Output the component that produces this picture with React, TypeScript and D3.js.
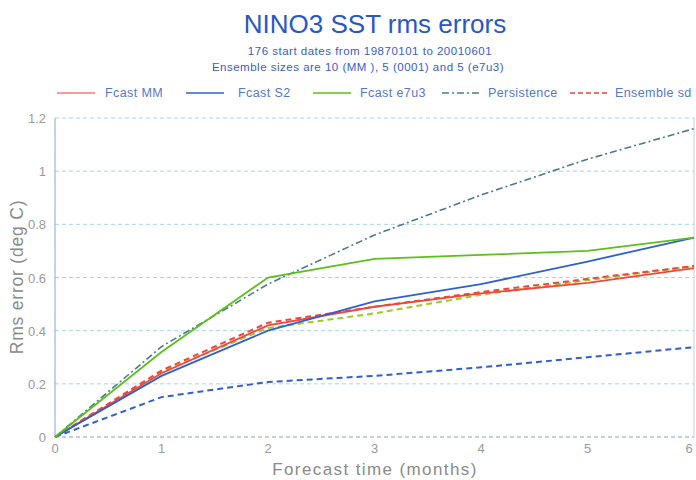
import React from "react";
import * as d3 from "d3";

const leads = [0, 1, 2, 3, 4, 5, 6];
const fcastMM = [0, 0.24, 0.42, 0.49, 0.54, 0.58, 0.635];
const fcastS2 = [0, 0.23, 0.40, 0.51, 0.575, 0.66, 0.75];
const fcastE7u3 = [0, 0.32, 0.60, 0.67, 0.685, 0.70, 0.75];
const persistence = [0, 0.34, 0.575, 0.76, 0.91, 1.045, 1.16];
const sdMM = [0, 0.25, 0.43, 0.49, 0.545, 0.595, 0.643];
const sdE7u3 = [0, 0.245, 0.41, 0.465, 0.535, 0.59, 0.643];
const sdS2 = [0, 0.15, 0.207, 0.23, 0.262, 0.30, 0.338];
const yTicks = [0, 0.2, 0.4, 0.6, 0.8, 1, 1.2];
const legendLabels = ["Fcast MM", "Fcast S2", "Fcast e7u3", "Persistence", "Ensemble sd"];

const RED = "#f0463c";
const BLUE = "#2f5fd0";
const GREEN = "#5cbf1c";
const PERS = "#4a7a96";

export default function App() {
  const W = 696, H = 480;
  const x = d3.scaleLinear().domain([0, 6]).range([55, 694]);
  const y = d3.scaleLinear().domain([0, 1.2]).range([437, 118]);
  const line = d3.line<number>().x((_, i) => x(leads[i])).y(d => y(d));

  const series = [
    { v: sdS2, c: BLUE, dash: "6,4", w: 2 },
    { v: persistence, c: PERS, dash: "7,3,2,3", w: 1.6 },
    { v: sdE7u3, c: "#9acd20", dash: "6,4", w: 2 },
    { v: sdMM, c: RED, dash: "6,4", w: 2 },
    { v: fcastMM, c: RED, dash: null, w: 1.8 },
    { v: fcastS2, c: BLUE, dash: null, w: 1.8 },
    { v: fcastE7u3, c: GREEN, dash: null, w: 1.8 },
  ];

  const legend = [
    { label: legendLabels[0], c: "#f87a7a", dash: null, lx: 57, tx: 105 },
    { label: legendLabels[1], c: BLUE, dash: null, lx: 186, tx: 238 },
    { label: legendLabels[2], c: GREEN, dash: null, lx: 313, tx: 360 },
    { label: legendLabels[3], c: PERS, dash: "7,3,2,3", lx: 442, tx: 488 },
    { label: legendLabels[4], c: RED, dash: "5,3", lx: 570, tx: 615 },
  ];

  return (
    <svg width={W} height={H} style={{ position: "absolute", left: 0, top: 0, background: "#fff" }}
      fontFamily="Liberation Sans, Arial, sans-serif">
      <text x={375} y={33} textAnchor="middle" fontSize={26} fill="#2a56c6">NINO3 SST rms errors</text>
      <text x={370} y={55} textAnchor="middle" fontSize={11.5} letterSpacing={0.5} fill="#3a5cc8">176 start dates from 19870101 to 20010601</text>
      <text x={358} y={71} textAnchor="middle" fontSize={11.5} letterSpacing={0.5} fill="#3a5cc8">Ensemble sizes are 10 (MM ), 5 (0001) and 5 (e7u3)</text>

      {legend.map((l, i) => (
        <g key={i}>
          <line x1={l.lx} x2={l.lx + 38} y1={93} y2={93} stroke={l.c} strokeWidth={1.5}
            strokeDasharray={l.dash ?? undefined} />
          <text x={l.tx} y={97} fontSize={12.5} letterSpacing={0.4} fill="#5577d0">{l.label}</text>
        </g>
      ))}

      {yTicks.map(t => (
        <line key={t} x1={x(0)} x2={x(6)} y1={y(t)} y2={y(t)}
          stroke={t === 0 ? "#8aa0b0" : "#a8d4e8"} strokeWidth={1} strokeDasharray="4,3" />
      ))}
      <line x1={x(0)} x2={x(0)} y1={y(0)} y2={y(1.2)} stroke="#8aa8c8" strokeWidth={1} />
      <line x1={x(6)} x2={x(6)} y1={y(0)} y2={y(1.2)} stroke="#c0d0dc" strokeWidth={1} />

      {yTicks.map(t => (
        <text key={t} x={46} y={y(t) + 5} textAnchor="end" fontSize={13} fill="#9a9a9a">{d3.format("")(t)}</text>
      ))}
      {leads.map(t => (
        <text key={t} x={Math.min(x(t), 689)} y={453} textAnchor="middle" fontSize={13} fill="#9a9a9a">{t}</text>
      ))}
      <text x={375} y={475} textAnchor="middle" fontSize={17} letterSpacing={1.4} fill="#8a8a8a">Forecast time (months)</text>
      <text transform={`translate(23,277) rotate(-90)`} textAnchor="middle" fontSize={17.5} letterSpacing={0.8} fill="#8a8a8a">Rms error (deg C)</text>

      {series.map((s, i) => (
        <path key={i} d={line(s.v) ?? ""} fill="none" stroke={s.c} strokeWidth={s.w}
          strokeDasharray={s.dash ?? undefined} />
      ))}
    </svg>
  );
}
